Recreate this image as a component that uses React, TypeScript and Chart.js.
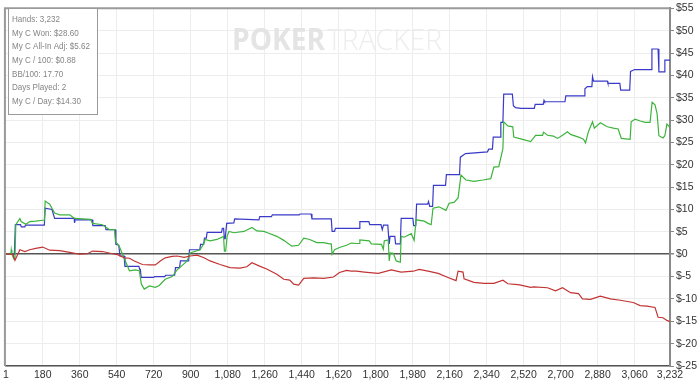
import React, { useEffect, useRef } from "react";
import { Chart, registerables } from "chart.js";

Chart.register(...registerables);

const xTickValues = [1, 180, 360, 540, 720, 900, 1080, 1260, 1440, 1620, 1800, 1980, 2160, 2340, 2520, 2700, 2880, 3060, 3232];

const statLines = [
  "Hands: 3,232",
  "My C Won: $28.60",
  "My C All-In Adj: $5.62",
  "My C / 100: $0.88",
  "BB/100: 17.70",
  "Days Played: 2",
  "My C / Day: $14.30",
];

const blueHands = [1, 42, 47, 72, 76, 93, 96, 188, 192, 225, 238, 333, 335, 338, 420, 424, 484, 488, 532, 536, 550, 556, 576, 580, 648, 652, 655, 659, 720, 724, 774, 778, 822, 826, 846, 850, 890, 894, 944, 948, 963, 967, 976, 980, 1050, 1054, 1060, 1064, 1068, 1075, 1110, 1114, 1232, 1236, 1293, 1297, 1428, 1432, 1486, 1490, 1584, 1588, 1600, 1604, 1719, 1723, 1767, 1771, 1826, 1832, 1838, 1859, 1863, 1866, 1870, 1893, 1897, 1920, 1924, 1981, 1985, 1995, 1999, 2053, 2057, 2063, 2077, 2081, 2140, 2144, 2208, 2212, 2237, 2344, 2350, 2368, 2372, 2405, 2409, 2419, 2423, 2465, 2470, 2480, 2506, 2572, 2576, 2615, 2619, 2622, 2721, 2725, 2814, 2818, 2830, 2852, 2855, 2860, 2927, 2930, 2988, 2992, 3036, 3040, 3060, 3140, 3144, 3174, 3178, 3203, 3207, 3232];
const blueValues = [0, 0, 6.6, 6.6, 6.1, 6.1, 6.5, 6.5, 10.3, 10.0, 8.0, 8.0, 7.0, 7.7, 7.7, 6.4, 6.4, 5.5, 5.5, 2.2, 2.0, -0.4, -0.4, -2.7, -2.7, -3.4, -3.4, -5.2, -5.2, -5.0, -5.0, -4.7, -4.7, -3.0, -3.0, -1.5, -1.5, 1.0, 1.0, 2.2, 2.2, 3.6, 3.6, 4.9, 4.9, 5.8, 5.8, 3.5, 3.5, 6.9, 7.0, 7.9, 7.7, 8.4, 8.4, 8.8, 8.8, 9.0, 9.0, 7.9, 7.9, 5.1, 5.1, 5.8, 5.8, 7.3, 7.3, 6.6, 6.6, 5.5, 6.5, 6.5, 4.0, 2.3, 4.0, 4.0, 2.3, 2.3, 8.0, 8.0, 6.4, 6.4, 11.2, 11.2, 11.8, 10.7, 10.7, 15.4, 15.4, 17.8, 17.8, 21.7, 22.5, 22.9, 23.5, 23.5, 26.2, 26.2, 29.5, 29.5, 35.8, 35.8, 33.2, 32.8, 32.6, 32.6, 33.5, 33.5, 34.4, 34.1, 34.1, 35.4, 35.4, 37.0, 37.5, 37.5, 39.7, 38.7, 38.7, 38.2, 38.2, 36.7, 36.7, 40.9, 41.3, 41.3, 45.9, 45.9, 40.8, 40.8, 43.4, 43.4];

const greenHands = [1, 25, 27, 30, 40, 45, 49, 69, 75, 98, 117, 146, 180, 188, 192, 214, 238, 263, 311, 335, 413, 422, 471, 505, 530, 534, 553, 568, 582, 602, 631, 650, 660, 674, 699, 728, 747, 776, 810, 834, 859, 883, 897, 946, 965, 970, 994, 1028, 1060, 1064, 1070, 1077, 1086, 1110, 1159, 1198, 1222, 1256, 1280, 1319, 1353, 1392, 1425, 1450, 1479, 1513, 1547, 1576, 1584, 1588, 1600, 1624, 1658, 1682, 1706, 1719, 1723, 1769, 1779, 1828, 1837, 1842, 1861, 1866, 1871, 1886, 1900, 1920, 1924, 1939, 1973, 1987, 1997, 2036, 2055, 2070, 2079, 2108, 2142, 2157, 2181, 2201, 2215, 2239, 2278, 2322, 2360, 2375, 2399, 2419, 2423, 2443, 2467, 2472, 2506, 2554, 2578, 2612, 2617, 2636, 2665, 2685, 2709, 2733, 2748, 2787, 2811, 2821, 2835, 2855, 2864, 2893, 2927, 2956, 2980, 2995, 3038, 3043, 3062, 3087, 3111, 3135, 3145, 3159, 3169, 3178, 3198, 3207, 3217, 3232];
const greenValues = [0, 0, 1.0, 0, -1.1, -1.1, 6.6, 8.0, 7.3, 6.7, 7.3, 7.4, 7.6, 7.6, 11.9, 11.2, 9.2, 8.8, 8.8, 8.0, 7.8, 6.9, 6.6, 5.5, 5.5, 2.9, 1.7, 0, -1.5, -3.7, -3.5, -3.7, -6.7, -7.8, -7.1, -7.4, -7.0, -5.6, -5.0, -3.5, -2.5, -1.5, 0.3, 1.0, 2.5, 3.3, 3.0, 3.3, 4.0, 0.7, 0.7, 4.0, 5.1, 4.8, 5.1, 6.0, 5.2, 5.1, 4.7, 4.0, 3.1, 1.8, 2.0, 3.6, 3.3, 2.6, 2.6, 2.3, 2.3, 0, 1.0, 1.5, 2.0, 2.5, 2.4, 2.4, 3.2, 3.0, 2.3, 2.2, 1.1, 3.0, 3.2, -1.5, 0.3, 0.2, -1.5, -1.8, 4.0, 3.8, 4.6, 3.1, 7.7, 7.4, 6.9, 6.6, 10.3, 10.6, 9.8, 11.4, 11.6, 12.6, 17.7, 16.6, 16.3, 16.6, 16.9, 19.5, 19.6, 23.6, 29.6, 28.7, 28.5, 26.2, 25.8, 25.2, 26.6, 26.6, 27.3, 26.6, 26.4, 25.9, 26.6, 27.4, 26.8, 26.2, 25.7, 24.9, 27.4, 29.6, 28.2, 29.4, 28.5, 28.2, 28.0, 25.9, 25.7, 29.6, 30.2, 29.8, 29.5, 29.5, 34.0, 33.4, 31.5, 26.5, 26.0, 26.5, 29.1, 28.4];

const redHands = [1, 35, 45, 69, 93, 117, 146, 180, 214, 263, 311, 360, 398, 422, 471, 519, 544, 578, 602, 626, 665, 699, 728, 752, 776, 810, 834, 868, 897, 931, 965, 994, 1043, 1091, 1140, 1173, 1198, 1232, 1270, 1319, 1353, 1382, 1401, 1425, 1450, 1498, 1547, 1595, 1624, 1658, 1682, 1706, 1745, 1813, 1876, 1924, 1983, 2012, 2055, 2104, 2152, 2191, 2201, 2225, 2230, 2278, 2327, 2375, 2419, 2443, 2491, 2506, 2554, 2569, 2636, 2675, 2709, 2748, 2787, 2806, 2845, 2893, 2942, 2990, 3053, 3087, 3120, 3159, 3174, 3198, 3217, 3232];
const redValues = [0, 0, -1.4, 1.0, 0.6, 1.0, 1.3, 1.6, 0.9, 0.8, 0.4, 0, 0.1, 0.7, 0.6, 0.1, -0.1, -0.8, -0.9, -1.5, -2.3, -2.4, -2.4, -1.5, -0.8, -0.5, -0.4, -0.7, -0.4, -0.2, -0.8, -1.5, -2.3, -3.0, -3.1, -2.8, -1.9, -2.6, -3.3, -4.5, -5.6, -5.8, -6.7, -6.9, -5.4, -5.3, -5.4, -5.1, -4.1, -3.6, -3.8, -3.8, -4.0, -4.3, -3.5, -4.0, -3.8, -3.4, -3.8, -4.3, -5.2, -5.9, -3.8, -4.0, -5.5, -6.3, -6.5, -6.5, -5.8, -6.6, -6.8, -6.9, -7.4, -7.3, -7.5, -8.2, -7.5, -8.6, -8.8, -10.0, -10.1, -9.4, -10.0, -10.3, -10.8, -11.5, -11.6, -11.9, -14.1, -14.2, -14.8, -15.1];

const toPoints = (xs: number[], ys: number[]) => xs.map((x, i) => ({ x, y: ys[i] }));

function fitText(ctx: CanvasRenderingContext2D, text: string, x: number, y: number, width: number) {
  const w = ctx.measureText(text).width;
  ctx.save();
  ctx.translate(x, y);
  ctx.scale(width / w, 1);
  ctx.fillText(text, 0, 0);
  ctx.restore();
}

const decorPlugin = {
  id: "decor",
  beforeDatasetsDraw(chart: any) {
    const ctx = chart.ctx;
    const { chartArea } = chart;
    ctx.save();
    ctx.textBaseline = "alphabetic";
    ctx.font = "bold 30px 'Open Sans', 'Liberation Sans', sans-serif";
    ctx.fillStyle = "#e4e4e4";
    fitText(ctx, "POKER", 232, 50, 93);
    ctx.font = "300 30px 'Open Sans', 'Liberation Sans', sans-serif";
    ctx.fillStyle = "#ededed";
    fitText(ctx, "TRACKER", 327, 50, 115);
    ctx.restore();
    ctx.save();
    ctx.strokeStyle = "#9a9a9a";
    ctx.lineWidth = 2;
    ctx.beginPath();
    ctx.moveTo(chartArea.left - 1, chartArea.bottom);
    ctx.lineTo(chartArea.left - 1, chartArea.top);
    ctx.lineTo(chartArea.right, chartArea.top);
    ctx.stroke();
    ctx.restore();
  },
  afterDraw(chart: any) {
    const ctx = chart.ctx;
    ctx.save();
    const bx = 8.5, by = 8.5, bw = 89, bh = 106;
    ctx.fillStyle = "#ffffff";
    ctx.fillRect(bx, by, bw, bh);
    ctx.strokeStyle = "#9a9a9a";
    ctx.lineWidth = 1;
    ctx.strokeRect(bx, by, bw, bh);
    ctx.fillStyle = "#858585";
    ctx.font = "9px 'Liberation Sans', 'DejaVu Sans', sans-serif";
    ctx.textBaseline = "middle";
    const longest = Math.max(...statLines.map((t) => ctx.measureText(t).width));
    const sx = 78 / longest;
    statLines.forEach((t, i) => {
      ctx.save();
      ctx.translate(12, 19.5 + i * 13.7);
      ctx.scale(sx, 1);
      ctx.fillText(t, 0, 0);
      ctx.restore();
    });
    ctx.restore();
  },
};

export default function App() {
  const canvasRef = useRef<HTMLCanvasElement | null>(null);

  useEffect(() => {
    document.body.style.margin = "0";
    const canvas = canvasRef.current;
    if (!canvas) return;
    const chart = new Chart(canvas, {
      type: "line",
      data: {
        datasets: [
          {
            label: "Green",
            data: toPoints(greenHands, greenValues),
            borderColor: "#3cb43c",
            borderWidth: 1.2,
            pointRadius: 0,
            tension: 0,
            order: 1,
          },
          {
            label: "Blue",
            data: toPoints(blueHands, blueValues),
            borderColor: "#3a3ac8",
            borderWidth: 1.2,
            pointRadius: 0,
            tension: 0,
            order: 2,
          },
          {
            label: "Red",
            data: toPoints(redHands, redValues),
            borderColor: "#c23434",
            borderWidth: 1.2,
            pointRadius: 0,
            tension: 0,
            order: 0,
          },
        ],
      },
      options: {
        responsive: false,
        animation: false,
        events: [],
        layout: { padding: { left: 3, top: 5, right: 0, bottom: 0 } },
        plugins: {
          legend: { display: false },
          tooltip: { enabled: false },
        },
        scales: {
          x: {
            type: "linear",
            min: 1,
            max: 3232,
            position: "bottom",
            grid: { color: "#ededed", lineWidth: 1, drawTicks: false },
            border: { color: "#555555", width: 1.5 },
            ticks: {
              color: "#333333",
              font: { size: 10.5, family: "'Liberation Sans', 'DejaVu Sans', sans-serif" },
              padding: 3,
              maxRotation: 0,
              autoSkip: false,
              callback: (v: any) => Number(v).toLocaleString("en-US"),
            },
            afterBuildTicks: (scale: any) => {
              scale.ticks = xTickValues.map((v) => ({ value: v }));
            },
            afterFit: (scale: any) => {
              scale.height = 18;
            },
          },
          y: {
            position: "right",
            min: -25,
            max: 55,
            grid: {
              color: (c: any) => (c.tick && c.tick.value === 0 ? "#555555" : "#ededed"),
              lineWidth: (c: any) => (c.tick && c.tick.value === 0 ? 1.5 : 1),
              tickLength: 4,
              tickColor: "#888888",
            },
            border: { color: "#8a8a8a", width: 2 },
            ticks: {
              stepSize: 5,
              color: "#333333",
              padding: 2,
              font: { size: 10.5, family: "'Liberation Sans', 'DejaVu Sans', sans-serif" },
              callback: (v: any) => "$" + v,
            },
            afterFit: (scale: any) => {
              scale.width = 30;
            },
          },
        },
      },
      plugins: [decorPlugin],
    } as any);
    return () => chart.destroy();
  }, []);

  return (
    <div style={{ position: "absolute", left: 0, top: 0, width: 700, height: 384, background: "#fff" }}>
      <canvas ref={canvasRef} width={700} height={384} style={{ width: 700, height: 384, display: "block" }} />
    </div>
  );
}
